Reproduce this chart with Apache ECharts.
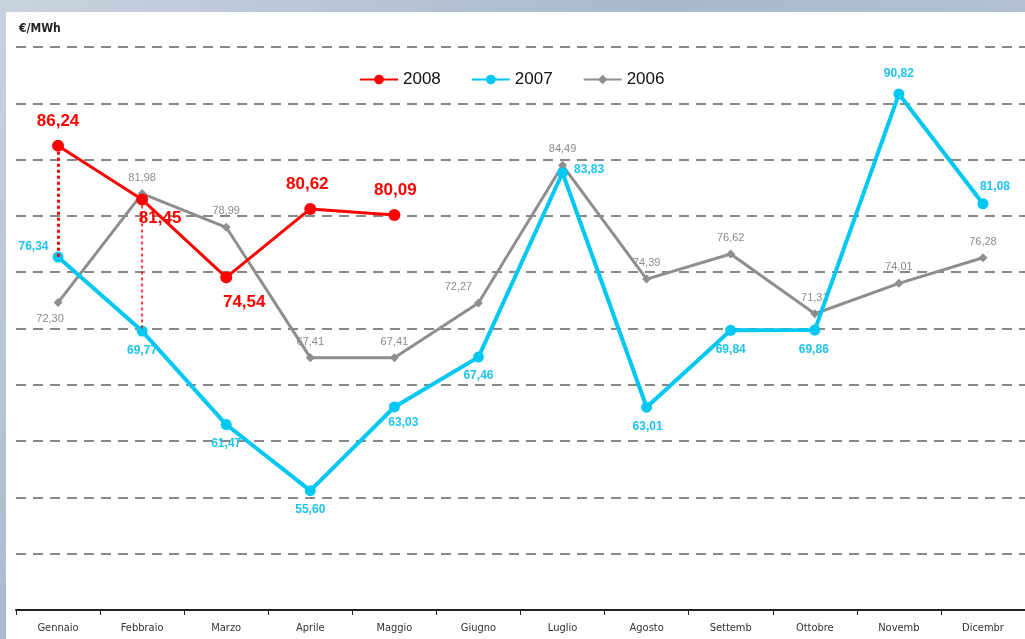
<!DOCTYPE html>
<html>
<head>
<meta charset="utf-8">
<script src="https://cdn.jsdelivr.net/npm/echarts@6/dist/echarts.min.js"></script>
<style>
  html, body { margin: 0; padding: 0; }
  body { width: 1025px; height: 639px; overflow: hidden;
         background: linear-gradient(135deg, #c9d3df 0%, #a9b9cc 40%, #c4cfdc 100%); position: relative; }
  #chart { position: absolute; left: 6px; top: 12px; width: 1019px; height: 627px; background: #fff; }
</style>
</head>
<body>
<div id="chart"></div>
<script>
var months = ['Gennaio', 'Febbraio', 'Marzo', 'Aprile', 'Maggio', 'Giugno', 'Luglio', 'Agosto', 'Settemb', 'Ottobre', 'Novemb', 'Dicembr'];
var y2008 = [86.24, 81.45, 74.54, 80.62, 80.09, null, null, null, null, null, null, null];
var y2007 = [76.34, 69.77, 61.47, 55.60, 63.03, 67.46, 83.83, 63.01, 69.84, 69.86, 90.82, 81.08];
var y2006 = [72.30, 81.98, 78.99, 67.41, 67.41, 72.27, 84.49, 74.39, 76.62, 71.31, 74.01, 76.28];

var fmt = function (p) { return p.value == null ? '' : p.value.toFixed(2).replace('.', ','); };
var narrow = "'DejaVu Sans Condensed', 'Liberation Sans Narrow', 'Liberation Sans', sans-serif";

var myChart = echarts.init(document.getElementById('chart'));

// label placement per point
var pos2008 = [['top', [0, -2]], ['bottom', [18, -4]], ['bottom', [18, 2]], ['top', [-3, -2]], ['top', [1, -2]]];
var pos2007 = [['left', [2, -10]], ['bottom', [0, 2]], ['bottom', [0, 2]], ['bottom', [0, 2]], ['bottom', [9, -2]],
               ['bottom', [0, 1]], ['right', [0, -3]], ['bottom', [1, 2]], ['bottom', [0, 2]], ['bottom', [-1, 2]],
               ['top', [0, -3]], ['top', [12, 0]]];
var pos2006 = [['bottom', [-8, 0]], ['top', [0, 0]], ['top', [0, 0]], ['top', [0, 0]], ['top', [0, 0]],
               ['top', [-20, 0]], ['top', [0, 0]], ['top', [0, 0]], ['top', [0, 0]], ['top', [0, 0]],
               ['top', [0, 0]], ['top', [0, 0]]];

function withLabels(values, pos) {
    return values.map(function (v, i) {
        if (v == null || !pos[i]) return v;
        return { value: v, label: { position: pos[i][0], offset: pos[i][1] } };
    });
}

var option = {
    animation: false,
    title: {
        text: '€/MWh', left: 8, top: 6,
        textStyle: { fontFamily: narrow, fontSize: 12, fontWeight: 'bold', color: '#222' }
    },
    legend: {
        top: 54, left: 348,
        itemWidth: 38, itemHeight: 12, itemGap: 30,
        textStyle: { fontFamily: 'Liberation Sans', fontSize: 17, color: '#111' },
        data: ['2008', '2007', '2006']
    },
    grid: { left: 10, top: 35, width: 1014, bottom: 29 },
    xAxis: {
        type: 'category',
        data: months,
        boundaryGap: true,
        axisLine: { lineStyle: { color: '#222', width: 2 } },
        axisTick: { show: true, length: 5, lineStyle: { color: '#222', width: 1 } },
        axisLabel: { fontFamily: narrow, fontSize: 11, color: '#333', margin: 13 }
    },
    yAxis: {
        type: 'value', min: 45, max: 95, interval: 5,
        axisLine: { show: false }, axisTick: { show: false }, axisLabel: { show: false },
        splitLine: { lineStyle: { color: '#888', width: 2, type: [10, 7] } }
    },
    series: [
        {
            name: '2006', type: 'line', z: 2,
            data: withLabels(y2006, pos2006),
            symbol: 'diamond', symbolSize: 9,
            itemStyle: { color: '#8e8e8e' },
            lineStyle: { color: '#8e8e8e', width: 3 },
            label: { show: true, formatter: fmt, color: '#8a8a8a', fontSize: 11, fontFamily: 'Liberation Sans', distance: 6 }
        },
        {
            name: '2007', type: 'line', z: 3,
            data: withLabels(y2007, pos2007),
            symbol: 'circle', symbolSize: 11,
            itemStyle: { color: '#00c8f2' },
            lineStyle: { color: '#00c8f2', width: 4 },
            label: { show: true, formatter: fmt, color: '#1ec3f0', fontSize: 12, fontWeight: 'bold', fontFamily: 'Liberation Sans', distance: 6 }
        },
        {
            name: '2008', type: 'line', z: 4,
            data: withLabels(y2008, pos2008),
            symbol: 'circle', symbolSize: 12,
            itemStyle: { color: '#ff0000' },
            lineStyle: { color: '#ff0000', width: 3 },
            label: { show: true, formatter: fmt, color: '#ff0000', fontSize: 17, fontWeight: 'bold', fontFamily: 'Liberation Sans', distance: 8 },
            markLine: {
                silent: true, symbol: 'none', label: { show: false },
                data: [
                    [{ coord: [0, y2008[0]], lineStyle: { color: '#ff0000', width: 3, type: [3, 3] } }, { coord: [0, y2007[0]] }],
                    [{ coord: [1, y2008[1]], lineStyle: { color: '#ff0000', width: 1.5, type: [3, 3] } }, { coord: [1, y2007[1]] }]
                ]
            }
        }
    ]
};

myChart.setOption(option);
window.addEventListener('resize', myChart.resize);
</script>
</body>
</html>
